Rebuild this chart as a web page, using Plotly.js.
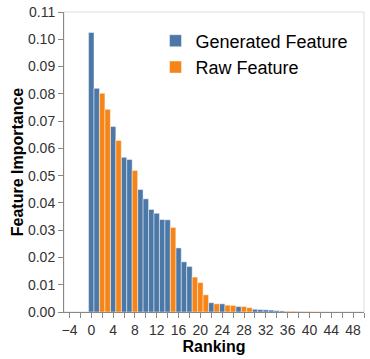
<!DOCTYPE html>
<html>
<head>
<meta charset="utf-8">
<script src="https://cdn.plot.ly/plotly-3.0.1.min.js"></script>
<style>
  html, body { margin: 0; padding: 0; background: #fff; }
  #chart { width: 370px; height: 359px; }
</style>
</head>
<body>
<div id="chart"></div>
<script>
// Rangs et importances
const genRanks = [0, 1, 4, 6, 7, 9, 10, 11, 12, 13, 14, 16, 17, 18, 22, 24, 27, 30, 31, 32, 33, 34, 35, 38];
const genValues = [0.1025, 0.0820, 0.0680, 0.0567, 0.0559, 0.0449, 0.0415, 0.0376, 0.0362, 0.0339, 0.0338,
                   0.0235, 0.0184, 0.0167, 0.0034, 0.0030, 0.0020, 0.0010, 0.0009, 0.0008, 0.0007, 0.0005, 0.0004, 0.0002];
const rawRanks = [2, 3, 5, 8, 15, 19, 20, 21, 23, 25, 26, 28, 29, 36, 37, 39, 40, 41, 42, 43];
const rawValues = [0.0802, 0.0743, 0.0629, 0.0519, 0.0310, 0.0128, 0.0108, 0.0063, 0.0030, 0.0025, 0.0024,
                   0.0020, 0.0016, 0.0003, 0.0003, 0.0002, 0.0002, 0.0001, 0.0001, 0.0001];
const seriesNames = ['Generated Feature', 'Raw Feature'];

const edge = { color: 'rgba(255,255,255,0.45)', width: 1 };

const traces = [
  {
    type: 'bar', name: seriesNames[0], x: genRanks, y: genValues, width: 1,
    marker: { color: '#4c78a8', line: edge }
  },
  {
    type: 'bar', name: seriesNames[1], x: rawRanks, y: rawValues, width: 1,
    marker: { color: '#f58518', line: edge }
  }
];

const layout = {
  width: 370, height: 359,
  margin: { l: 64, r: 6, t: 12, b: 47, autoexpand: false },
  paper_bgcolor: '#fff', plot_bgcolor: '#fff',
  font: { family: 'Liberation Sans, Arial, sans-serif', color: '#000' },
  barmode: 'overlay',
  showlegend: true,
  legend: {
    x: 0.305, y: 0.965, xanchor: 'left', yanchor: 'top',
    font: { size: 18, color: '#000' },
    bgcolor: 'rgba(0,0,0,0)', tracegroupgap: 0
  },
  xaxis: {
    range: [-5, 50], tick0: 0, dtick: 4,
    showgrid: false, zeroline: false,
    showline: true, linecolor: '#888', linewidth: 1,
    ticks: 'outside', ticklen: 5, tickcolor: '#888',
    minor: { dtick: 2, tick0: 0, ticks: 'outside', ticklen: 5, tickcolor: '#888', showgrid: false },
    tickfont: { size: 14, color: '#333' },
    title: { text: '<b>Ranking</b>', font: { size: 16, color: '#000' }, standoff: 4 }
  },
  yaxis: {
    range: [0, 0.11], dtick: 0.01, tickformat: '.2f',
    showgrid: false, zeroline: false,
    showline: true, linecolor: '#888', linewidth: 1,
    ticks: 'outside', ticklen: 5, tickcolor: '#888',
    tickfont: { size: 14, color: '#333' },
    title: { text: '<b>Feature Importance</b>', font: { size: 16, color: '#000' }, standoff: 0 }
  },
  shapes: [
    {
      type: 'rect', xref: 'paper', yref: 'paper', x0: 0, x1: 1, y0: 0, y1: 1,
      line: { color: '#ddd', width: 1 }, layer: 'below'
    }
  ]
};

Plotly.newPlot('chart', traces, layout, { displayModeBar: false, staticPlot: true });
</script>
</body>
</html>
